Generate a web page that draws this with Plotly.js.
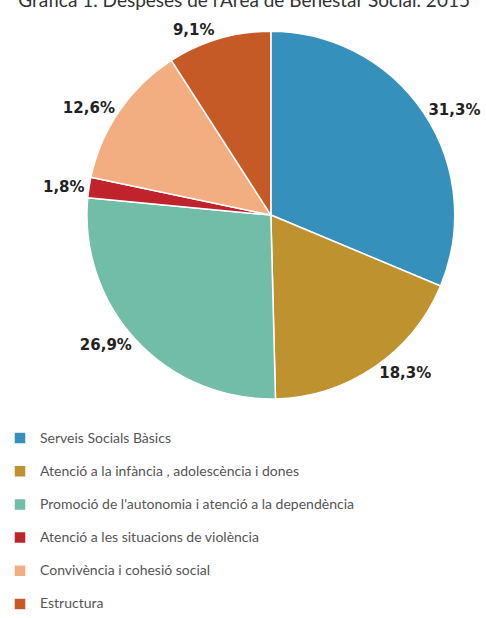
<!DOCTYPE html>
<html>
<head>
<meta charset="utf-8">
<script src="https://cdn.plot.ly/plotly-3.0.1.min.js"></script>
<style>html,body{margin:0;padding:0;background:#fff;}#chart{width:486px;height:618px;}</style>
</head>
<body>
<div id="chart"></div>
<script>
const titleText = "Gràfica 1. Despeses de l'Àrea de Benestar Social. 2015";
const categories = [
  "Serveis Socials Bàsics",
  "Atenció a la infància , adolescència i dones",
  "Promoció de l'autonomia i atenció a la dependència",
  "Atenció a les situacions de violència",
  "Convivència i cohesió social",
  "Estructura"
];
const shares = [31.3, 18.3, 26.9, 1.8, 12.6, 9.1];
const sliceColors = ["#3591BC", "#BF9230", "#72BDA7", "#C0232B", "#F2AE80", "#C55A27"];

const legendLabels = categories.map(c => "<br><span style=\"font-size:14px\">" + c + "</span>");

const trace = {
  type: "pie",
  labels: legendLabels,
  values: shares,
  sort: false,
  direction: "clockwise",
  rotation: 0,
  marker: {colors: sliceColors, line: {color: "#ffffff", width: 1.5}},
  texttemplate: "%{value:.1f}%",
  textposition: "outside",
  textfont: {family: "DejaVu Sans", size: 15, color: "#222222", weight: "bold"},
  hoverinfo: "percent",
  domain: {x: [0.1663, 0.9483], y: [0.334, 0.948]}
};

const layout = {
  width: 486,
  height: 618,
  margin: {l: 0, r: 0, t: 0, b: 0},
  separators: ",.",
  paper_bgcolor: "#ffffff",
  title: {
    text: titleText,
    font: {family: "Lato", size: 19, color: "#333333"},
    xref: "paper", x: 0.967, xanchor: "right",
    yref: "container", y: 1.0, yanchor: "middle"
  },
  showlegend: true,
  legend: {
    x: 0, xanchor: "left",
    y: 0.317, yanchor: "top",
    font: {family: "Lato", size: 11.6, color: "#555555"},
    valign: "bottom",
    bgcolor: "rgba(0,0,0,0)",
    traceorder: "normal"
  }
};

Plotly.newPlot("chart", [trace], layout, {displayModeBar: false, staticPlot: true});
</script>
</body>
</html>
